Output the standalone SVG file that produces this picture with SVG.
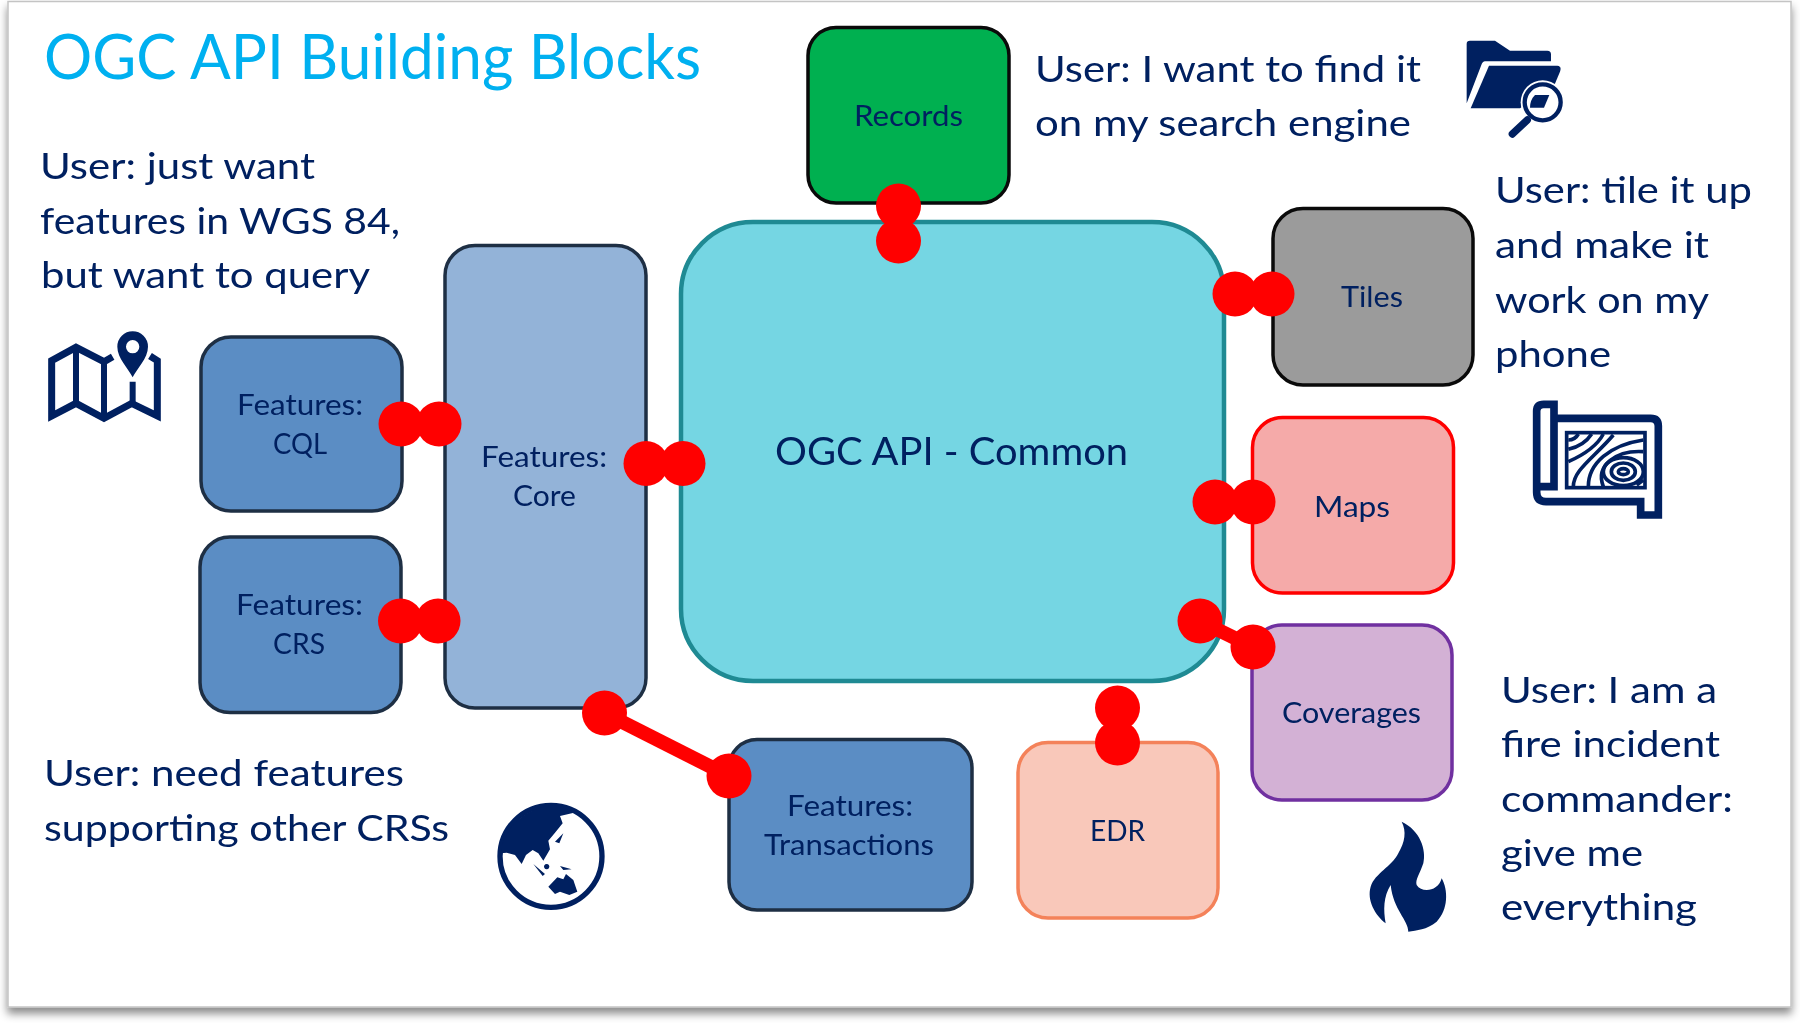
<svg xmlns="http://www.w3.org/2000/svg" width="1800" height="1023" viewBox="0 0 1800 1023">
<style>
text{font-family:"Lato","Carlito","Open Sans",sans-serif;fill:#002060}
.title{font-size:61px;fill:#00B0F0}
.user{font-size:37px}
.label{font-size:28.500px}
.main{font-size:38px}
.box{stroke-width:3.5}
.dark{stroke:#1E2F44}
.red{fill:#FF0000;stroke:none}
.bar{stroke:#FF0000;stroke-width:14;fill:none}
.ink{fill:#002060;stroke:none}
.line{fill:none;stroke:#002060;stroke-linejoin:miter}
</style>
<defs>
<filter id="sh" x="-2%" y="-2%" width="104%" height="105%"><feDropShadow dx="0" dy="6" stdDeviation="4" flood-color="#000" flood-opacity=".45"/></filter>
<filter id="soft" x="0" y="0" width="100%" height="100%" filterUnits="userSpaceOnUse" primitiveUnits="userSpaceOnUse"><feGaussianBlur stdDeviation="0.7"/></filter>
<circle id="dot" r="22.5" class="red"/>
</defs>
<rect width="1800" height="1023" fill="#fff"/>
<rect id="slide" x="8" y="1.5" width="1783" height="1005.500" fill="#fff" stroke="#c4c4c4" stroke-width="1.500" filter="url(#sh)"/>
<g id="diagram" style="filter:blur(0.7px)">
<text id="title" class="title" x="44" y="79" textLength="657" lengthAdjust="spacingAndGlyphs">OGC API Building Blocks</text>

<g id="node-records"><rect class="box" x="808" y="27.500" width="201" height="175.500" rx="28" fill="#00B050" stroke="#0a0a0a"/><text class="label" x="854" y="126" textLength="109" lengthAdjust="spacingAndGlyphs">Records</text></g>
<g id="node-common"><rect x="681" y="222" width="543" height="459" rx="72" fill="#75D6E3" stroke="#1F8A93" stroke-width="4.500"/><text class="main" x="775" y="465" textLength="353" lengthAdjust="spacingAndGlyphs">OGC API - Common</text></g>
<g id="node-core"><rect class="box dark" x="445" y="245.500" width="201" height="462.500" rx="30" fill="#93B3D8"/><text class="label" x="481" y="467" textLength="126" lengthAdjust="spacingAndGlyphs">Features:</text><text class="label" x="513" y="506" textLength="63" lengthAdjust="spacingAndGlyphs">Core</text></g>
<g id="node-cql"><rect class="box dark" x="201" y="337" width="201" height="174" rx="30" fill="#5B8DC4"/><text class="label" x="237" y="415" textLength="126" lengthAdjust="spacingAndGlyphs">Features:</text><text class="label" x="273" y="454" textLength="54" lengthAdjust="spacingAndGlyphs">CQL</text></g>
<g id="node-crs"><rect class="box dark" x="200" y="537" width="201" height="175.500" rx="30" fill="#5B8DC4"/><text class="label" x="236" y="615" textLength="127" lengthAdjust="spacingAndGlyphs">Features:</text><text class="label" x="273" y="654" textLength="52" lengthAdjust="spacingAndGlyphs">CRS</text></g>
<g id="node-transactions"><rect class="box dark" x="729" y="739.500" width="243" height="170.500" rx="28" fill="#5B8DC4"/><text class="label" x="787" y="816" textLength="126" lengthAdjust="spacingAndGlyphs">Features:</text><text class="label" x="764" y="855" textLength="170" lengthAdjust="spacingAndGlyphs">Transactions</text></g>
<g id="node-edr"><rect class="box" x="1018" y="742.500" width="200" height="175.500" rx="30" fill="#F9C8BA" stroke="#F4825A"/><text class="label" x="1090" y="841" textLength="55" lengthAdjust="spacingAndGlyphs">EDR</text></g>
<g id="node-coverages"><rect class="box" x="1252" y="625" width="200" height="175" rx="30" fill="#D3B1D5" stroke="#7030A0"/><text class="label" x="1282" y="723" textLength="139" lengthAdjust="spacingAndGlyphs">Coverages</text></g>
<g id="node-maps"><rect class="box" x="1252.500" y="417.500" width="201" height="175.500" rx="30" fill="#F5AAA9" stroke="#FF0000"/><text class="label" x="1314" y="517" textLength="76" lengthAdjust="spacingAndGlyphs">Maps</text></g>
<g id="node-tiles"><rect class="box" x="1273" y="208.500" width="200" height="176.500" rx="30" fill="#9B9B9B" stroke="#0a0a0a"/><text class="label" x="1341" y="307" textLength="62" lengthAdjust="spacingAndGlyphs">Tiles</text></g>

<g id="connectors">
<line class="bar" x1="401" y1="424" x2="439" y2="424"/><use href="#dot" x="401" y="424"/><use href="#dot" x="439" y="424"/>
<line class="bar" x1="646" y1="463.500" x2="683" y2="463.500"/><use href="#dot" x="646" y="463.500"/><use href="#dot" x="683" y="463.500"/>
<line class="bar" x1="400.500" y1="621" x2="438" y2="621"/><use href="#dot" x="400.500" y="621"/><use href="#dot" x="438" y="621"/>
<line class="bar" x1="604.500" y1="713" x2="729" y2="776"/><use href="#dot" x="604.500" y="713"/><use href="#dot" x="729" y="776"/>
<line class="bar" x1="898.500" y1="206" x2="898.500" y2="241"/><use href="#dot" x="898.500" y="206"/><use href="#dot" x="898.500" y="241"/>
<line class="bar" x1="1235" y1="294" x2="1272" y2="294"/><use href="#dot" x="1235" y="294"/><use href="#dot" x="1272" y="294"/>
<line class="bar" x1="1215" y1="502" x2="1253" y2="502"/><use href="#dot" x="1215" y="502"/><use href="#dot" x="1253" y="502"/>
<line class="bar" x1="1200" y1="621" x2="1253" y2="647"/><use href="#dot" x="1200" y="621"/><use href="#dot" x="1253" y="647"/>
<line class="bar" x1="1117.500" y1="708" x2="1117.500" y2="743"/><use href="#dot" x="1117.500" y="708"/><use href="#dot" x="1117.500" y="743"/>
</g>

<g id="note-wgs84"><text class="user" x="40" y="179" textLength="275" lengthAdjust="spacingAndGlyphs">User: just want</text><text class="user" x="40" y="234" textLength="360" lengthAdjust="spacingAndGlyphs">features in WGS 84,</text><text class="user" x="41" y="288" textLength="329" lengthAdjust="spacingAndGlyphs">but want to query</text></g>
<g id="note-search"><text class="user" x="1035" y="82" textLength="386" lengthAdjust="spacingAndGlyphs">User: I want to find it</text><text class="user" x="1035" y="136" textLength="376" lengthAdjust="spacingAndGlyphs">on my search engine</text></g>
<g id="note-tiles"><text class="user" x="1495" y="203" textLength="257" lengthAdjust="spacingAndGlyphs">User: tile it up</text><text class="user" x="1495" y="258" textLength="214" lengthAdjust="spacingAndGlyphs">and make it</text><text class="user" x="1495" y="312.500" textLength="214" lengthAdjust="spacingAndGlyphs">work on my</text><text class="user" x="1495" y="367" textLength="116" lengthAdjust="spacingAndGlyphs">phone</text></g>
<g id="note-crs"><text class="user" x="44" y="786" textLength="360" lengthAdjust="spacingAndGlyphs">User: need features</text><text class="user" x="44" y="841" textLength="405" lengthAdjust="spacingAndGlyphs">supporting other CRSs</text></g>
<g id="note-fire"><text class="user" x="1501" y="703" textLength="216" lengthAdjust="spacingAndGlyphs">User: I am a</text><text class="user" x="1501" y="757" textLength="219" lengthAdjust="spacingAndGlyphs">fire incident</text><text class="user" x="1501" y="812" textLength="232" lengthAdjust="spacingAndGlyphs">commander:</text><text class="user" x="1501" y="866" textLength="142" lengthAdjust="spacingAndGlyphs">give me</text><text class="user" x="1501" y="920" textLength="196" lengthAdjust="spacingAndGlyphs">everything</text></g>

<g id="icon-folder" transform="translate(1440 20) scale(.3333)">
<path class="ink" d="M80,250V72Q80,62 90,62H165L210,92H322Q333,92 333,103V124H135Q128,124 124,135Z"/>
<path class="ink" d="M147,137H352Q366,138 360,155L342,198 240,265H92Z"/>
<circle cx="308" cy="247" r="66" fill="#fff"/>
<path class="ink" d="M285,225H328L312,263H270Q270,240 285,225Z"/>
<circle cx="308" cy="247" r="54" fill="none" stroke="#002060" stroke-width="13"/>
<path d="M217,342 262,300" stroke="#002060" stroke-width="22" stroke-linecap="round" fill="none"/>
</g>

<g id="icon-map" transform="translate(30 320) scale(.3333)">
<path class="line" stroke-width="21" d="M248,110 222,125 138,82 65,122V288L138,250 222,295 305,250 382,288V122L360,108"/>
<path class="line" stroke-width="18" d="M138,85V250M222,125V295M308,185V250"/>
<path class="ink" fill-rule="evenodd" d="M308,172C295,145 262,115 262,80A46,46 0 0 1 354,80C354,115 321,145 308,172ZM308,60A20,20 0 1 0 308,100A20,20 0 1 0 308,60Z"/>
</g>

<g id="icon-topo" transform="translate(1510 390) scale(.3333)">
<path class="line" stroke-width="23" d="M132,85H422Q445,85 445,108V375H392V335H108Q80,335 80,307V64Q80,43 101,43H132V290H82"/>
<rect x="170" y="128" width="235" height="165" fill="none" stroke="#002060" stroke-width="11"/>
<g class="line" stroke-width="11">
<path d="M175,150Q195,150 205,132"/>
<path d="M175,178C210,170 230,155 245,132"/>
<path d="M175,215C220,195 260,170 280,132"/>
<path d="M190,290C190,240 250,205 310,135"/>
<path d="M235,290C235,220 300,165 400,150"/>
<path d="M280,290C255,225 320,180 400,185"/>
<ellipse cx="340" cy="245" rx="60" ry="42"/>
<ellipse cx="340" cy="245" rx="36" ry="26"/>
<ellipse cx="340" cy="245" rx="15" ry="9"/>
<path d="M380,285 400,270"/>
</g>
</g>

<g id="icon-globe" transform="translate(480 790) scale(.3333)">
<circle cx="213" cy="199" r="153" fill="#fff" stroke="#002060" stroke-width="16"/>
<path class="ink" d="M62,190C72,105 150,42 240,46L282,68 240,78 248,100 225,128 205,152 210,178 190,212 175,190 158,180 138,195 125,222 105,195 80,188Z"/>
<path class="ink" d="M225,155 250,130 238,160ZM160,222 195,252 188,258ZM200,222A8,8 0 1 0 200.100,222ZM240,228 275,238 250,240ZM205,290 232,262 250,268 258,252 280,270 292,305 268,315 240,305 225,312Z"/>
</g>

<g id="icon-fire" transform="translate(1350 810) scale(.3333)">
<path class="ink" d="M155,35C210,60 230,120 220,160C210,190 195,210 200,225C215,250 265,245 275,205C295,240 295,300 260,335C230,360 200,360 175,365C175,330 130,300 122,225C100,260 100,300 107,340C75,315 50,270 62,230C75,190 125,170 145,130C165,95 170,65 155,35Z"/>
</g>
</g>
</svg>
